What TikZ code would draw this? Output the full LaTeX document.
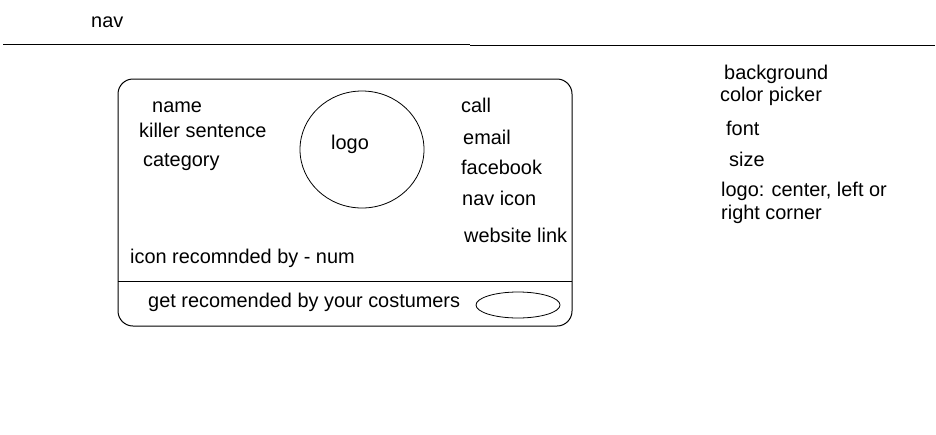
\documentclass[tikz,border=0pt]{standalone}
\usepackage{fontspec}
\setmainfont{Liberation Sans}
\usetikzlibrary{shapes.geometric}

\tikzset{
	lbl/.style={anchor=west, inner sep=0, text height=14pt, text depth=4pt, font=\fontsize{19.9pt}{22pt}\selectfont},
	ln/.style={line width=1pt}
}

\begin{document}
\begin{tikzpicture}[x=1pt, y=-1pt]
			\useasboundingbox (0,0) rectangle (936,434);

			\node[lbl] (nav) at (91,22) {nav};
			\draw[ln] (3,44) -- (470,44);
			\draw[ln] (470,45) -- (935,45);

			\draw[ln, rounded corners=15pt] (118,79) rectangle (572,326);
			\draw[ln] (118,281) -- (572,281);

			\node[lbl] (name) at (152,107) {name};
			\node[lbl] (killer) at (139,132) {killer sentence};
			\node[lbl] (category) at (143,161) {category};

			\node[ellipse, draw, line width=.8pt, minimum width=124pt, minimum height=117pt, inner sep=0] (logoshape) at (362,149.5) {};
			\node[lbl] (logo) at (331,144) {logo};

			\node[lbl] (call) at (461,107) {call};
			\node[lbl] (email) at (463,139) {email};
			\node[lbl] (facebook) at (461,169) {facebook};
			\node[lbl] (navicon) at (462,200) {nav icon};
			\node[lbl] (website) at (464,237) {website link};

			\node[lbl] (recommended) at (130,258) {icon recomnded by - num};
			\node[lbl] (getrec) at (148,302) {get recomended by your costumers};
			\node[ellipse, draw, line width=.8pt, minimum width=84pt, minimum height=26pt, inner sep=0] (button) at (518,305) {};

			\node[lbl] (bg) at (724,74) {background};
			\node[lbl] (picker) at (720,96) {color picker};
			\node[lbl] (font) at (726,130) {font};
			\node[lbl] (size) at (729,161) {size};
			\node[lbl] (logopos) at (721,191) {logo: center, left or};
			\node[lbl] (corner) at (721,214) {right corner};
		\end{tikzpicture}
\end{document}
